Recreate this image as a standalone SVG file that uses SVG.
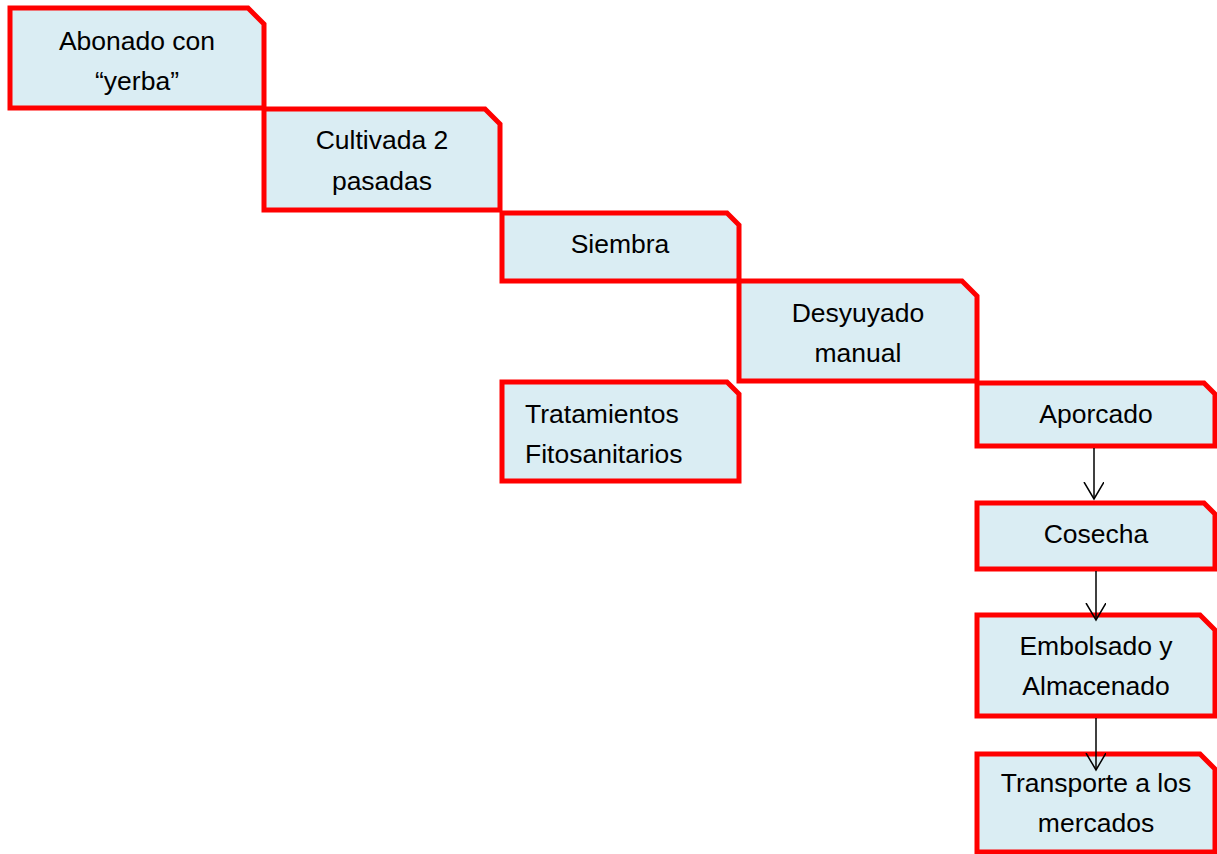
<svg xmlns="http://www.w3.org/2000/svg" width="1217" height="854" viewBox="0 0 1217 854">
  <defs>
    <style>
      .box { fill: #DAEDF3; stroke: #FF0000; stroke-width: 5; stroke-linejoin: miter; }
      .t { font-family: "Liberation Sans", Arial, sans-serif; font-size: 26.5px; fill: #000000; text-anchor: middle; }
      .tl { text-anchor: start; }
      .conn { stroke: #000000; stroke-width: 1.5; fill: none; }
    </style>
    <marker id="arr" markerWidth="24" markerHeight="24" refX="17" refY="10" orient="auto" markerUnits="userSpaceOnUse">
      <path d="M0,0 L17,10 L0,20" fill="none" stroke="#000000" stroke-width="1.5"/>
    </marker>
  </defs>
  <rect width="1217" height="854" fill="#FFFFFF"/>

  <g id="n1">
    <path class="box" d="M10,8 H248 L264,24 V108 H10 Z"/>
    <text class="t" x="137" y="50">Abonado con</text>
    <text class="t" x="137" y="90">“yerba”</text>
  </g>
  <g id="n2">
    <path class="box" d="M264,109 H485 L500,124 V210 H264 Z"/>
    <text class="t" x="382" y="149">Cultivada 2</text>
    <text class="t" x="382" y="190">pasadas</text>
  </g>
  <g id="n3">
    <path class="box" d="M502,213 H727 L739,225 V281 H502 Z"/>
    <text class="t" x="620" y="253">Siembra</text>
  </g>
  <g id="n4">
    <path class="box" d="M739,281 H962 L977,296 V381 H739 Z"/>
    <text class="t" x="858" y="322">Desyuyado</text>
    <text class="t" x="858" y="362">manual</text>
  </g>
  <g id="n5">
    <path class="box" d="M502,382 H727 L739,394 V481 H502 Z"/>
    <text class="t tl" x="525" y="423">Tratamientos</text>
    <text class="t tl" x="525" y="463">Fitosanitarios</text>
  </g>
  <g id="n6">
    <path class="box" d="M977,383 H1204 L1215,394 V446 H977 Z"/>
    <text class="t" x="1096" y="423">Aporcado</text>
  </g>
  <g id="n7">
    <path class="box" d="M977,503 H1204 L1215,514 V569 H977 Z"/>
    <text class="t" x="1096" y="543">Cosecha</text>
  </g>
  <g id="n8">
    <path class="box" d="M977,615 H1200 L1215,630 V716 H977 Z"/>
    <text class="t" x="1096" y="655">Embolsado y</text>
    <text class="t" x="1096" y="695">Almacenado</text>
  </g>
  <g id="n9">
    <path class="box" d="M977,754 H1200 L1215,769 V852 H977 Z"/>
    <text class="t" x="1096" y="792">Transporte a los</text>
    <text class="t" x="1096" y="832">mercados</text>
  </g>

  <g id="connectors">
    <line class="conn" x1="1094" y1="448" x2="1094" y2="499" marker-end="url(#arr)"/>
    <line class="conn" x1="1096" y1="571" x2="1096" y2="620" marker-end="url(#arr)"/>
    <line class="conn" x1="1096" y1="718" x2="1096" y2="770" marker-end="url(#arr)"/>
  </g>
</svg>
